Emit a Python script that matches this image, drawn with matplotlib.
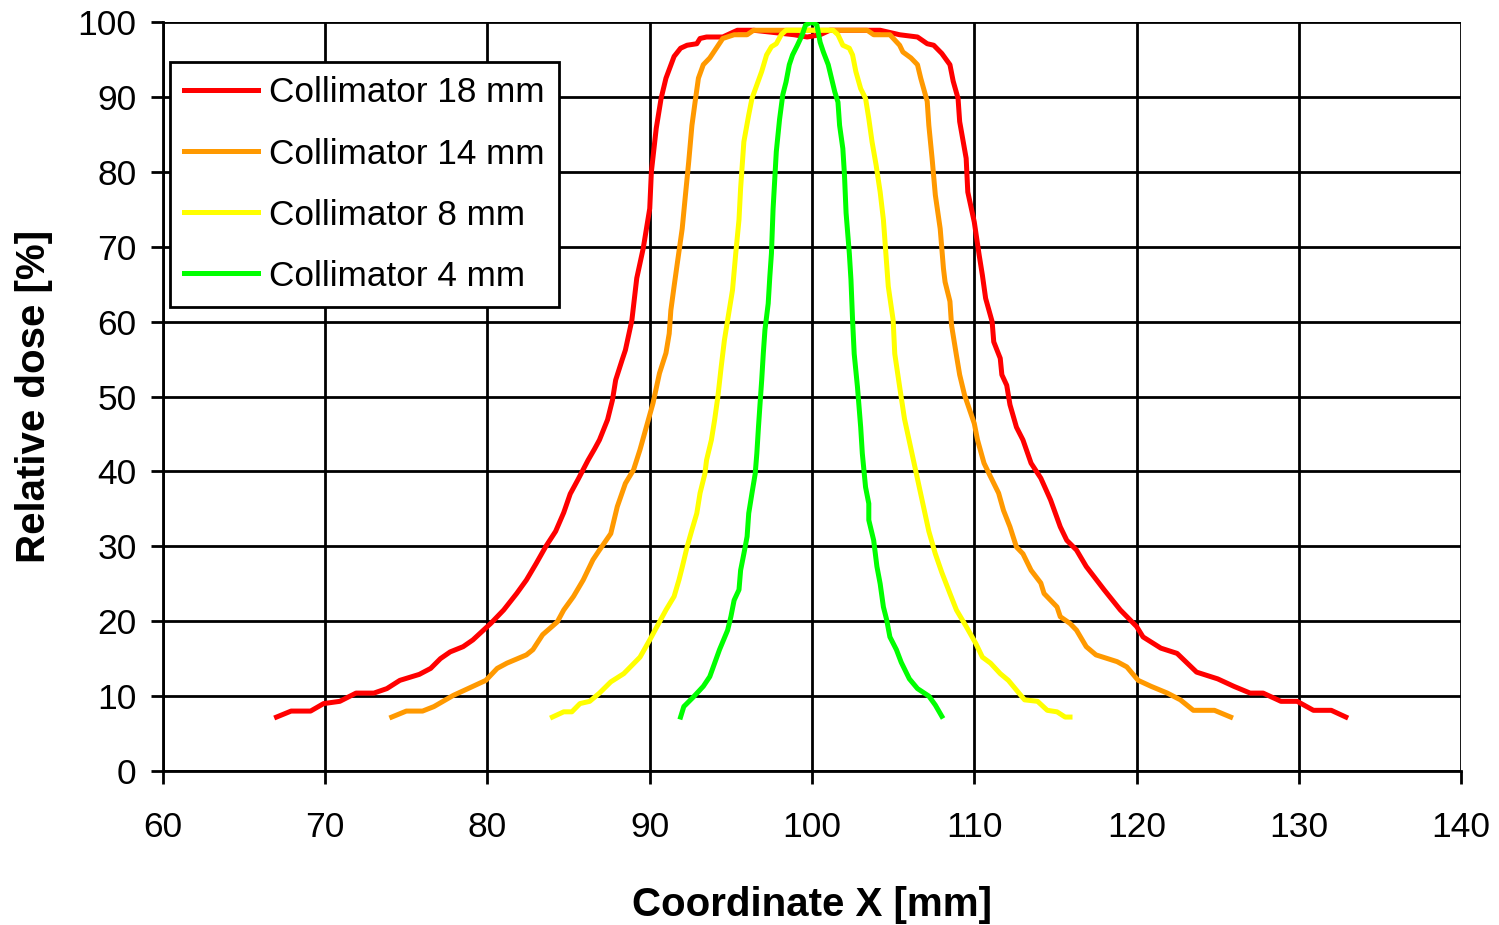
import numpy as np
import matplotlib
matplotlib.use("Agg")
import matplotlib.pyplot as plt

# dose profiles (x in mm, dose in %)
x_18 = [67.0, 67.9, 69.1, 69.9, 70.9, 71.9, 73.0, 73.8, 74.6, 75.8, 76.5, 77.1, 77.7, 78.5,
        79.1, 80.2, 81.0, 81.8, 82.4, 83.0, 83.6, 84.2, 84.7, 85.1, 85.6, 86.2, 86.6, 86.9,
        87.4, 87.7, 87.9, 88.3, 88.5, 88.9, 89.2, 89.6, 90.0, 90.1, 90.4, 90.7, 91.0, 91.5,
        91.9, 92.3, 92.9, 93.1, 93.5, 94.5, 95.4, 96.4, 98.9, 99.7, 100.5, 101.1, 104.2,
        104.6, 105.4, 106.5, 107.1, 107.5, 108.0, 108.5, 108.7, 109.0, 109.1, 109.5, 109.6,
        110.0, 110.3, 110.5, 110.7, 111.1, 111.2, 111.6, 111.7, 112.0, 112.2, 112.6, 113.0,
        113.5, 114.1, 114.7, 115.3, 115.7, 116.3, 116.9, 118.0, 119.0, 120.0, 120.4, 121.5,
        122.5, 123.7, 125.0, 126.0, 127.0, 127.8, 128.9, 129.9, 130.9, 132.0, 132.9]
y_18 = [7.2, 8.0, 8.0, 9.0, 9.3, 10.4, 10.4, 11.0, 12.1, 12.9, 13.7, 15.0, 15.9, 16.6,
        17.5, 19.7, 21.5, 23.7, 25.5, 27.7, 30.0, 32.0, 34.5, 37.0, 39.0, 41.5, 43.0, 44.2,
        46.9, 49.5, 52.2, 54.9, 56.2, 60.2, 65.8, 69.8, 75.1, 80.0, 85.8, 89.8, 92.5, 95.4,
        96.5, 96.9, 97.1, 97.8, 98.0, 98.0, 98.9, 98.9, 98.3, 98.0, 98.3, 98.9, 98.9,
        98.7, 98.3, 98.0, 97.1, 96.9, 95.8, 94.3, 92.1, 89.8, 86.7, 81.8, 77.3,
        73.3, 68.9, 66.2, 63.1, 60.0, 57.3, 55.1, 52.9, 51.5, 48.9, 45.9, 44.2,
        41.1, 39.1, 36.2, 32.6, 30.8, 29.5, 27.3, 24.2, 21.5, 19.3, 17.9, 16.4,
        15.7, 13.2, 12.3, 11.3, 10.4, 10.4, 9.3, 9.3, 8.1, 8.1, 7.2]

x_14 = [74.1, 75.0, 76.0, 76.7, 77.9, 79.1, 79.9, 80.6, 81.2, 82.4, 82.8, 83.4, 84.3, 84.7,
        85.3, 85.9, 86.5, 86.9, 87.6, 88.0, 88.5, 89.0, 89.4, 89.8, 90.2, 90.6, 91.0, 91.2,
        91.3, 91.5, 91.7, 92.0, 92.2, 92.4, 92.6, 92.8, 93.0, 93.3, 93.7, 94.1, 94.5, 95.2,
        96.0, 96.4, 103.4, 103.8, 104.8, 105.4, 105.6, 106.1, 106.5, 106.7, 107.1, 107.2,
        107.4, 107.6, 107.9, 108.1, 108.2, 108.5, 108.6, 108.9, 109.1, 109.4, 110.0, 110.2,
        110.6, 111.0, 111.5, 111.8, 112.2, 112.6, 113.0, 113.5, 114.1, 114.3, 114.7, 115.1,
        115.3, 115.9, 116.3, 116.9, 117.5, 118.8, 119.4, 120.1, 120.9, 121.9, 122.7, 123.5,
        124.8, 125.8]
y_14 = [7.2, 8.0, 8.0, 8.6, 10.1, 11.3, 12.1, 13.7, 14.4, 15.5, 16.2, 18.2, 19.9, 21.5,
        23.3, 25.5, 28.2, 29.5, 31.7, 35.3, 38.4, 40.2, 42.9, 46.0, 49.1, 53.1, 55.8, 58.4,
        61.5, 64.7, 67.8, 72.4, 76.9, 81.3, 86.2, 89.4, 92.5, 94.3, 95.2, 96.5, 97.8, 98.3,
        98.3, 98.9, 98.9, 98.3, 98.3, 96.9, 96.0, 95.2, 94.3, 92.5, 89.4, 86.2,
        81.8, 76.9, 72.4, 67.1, 65.3, 62.7, 59.5, 55.5, 52.9, 50.2, 46.4, 44.2,
        41.1, 39.3, 37.1, 34.8, 32.6, 29.9, 29.0, 26.8, 25.1, 23.7, 22.8, 21.9,
        20.6, 19.7, 18.8, 16.6, 15.5, 14.6, 13.9, 12.1, 11.3, 10.4, 9.5, 8.1,
        8.1, 7.2]

x_8 = [84.0, 84.7, 85.2, 85.7, 86.3, 86.9, 87.6, 88.4, 89.4, 90.0, 91.0, 91.5, 91.8, 92.0,
       92.3, 92.6, 92.9, 93.1, 93.4, 93.5, 93.8, 94.0, 94.2, 94.4, 94.6, 94.8, 95.1, 95.3,
       95.5, 95.6, 95.8, 96.1, 96.3, 96.6, 96.9, 97.2, 97.5, 97.8, 98.1, 98.4, 101.3, 101.6,
       101.9, 102.3, 102.5, 102.7, 103.0, 103.3, 103.5, 103.7, 103.95, 104.2, 104.4, 104.7,
       105.0, 105.1, 105.4, 105.7, 106.0, 106.3, 106.6, 106.9, 107.2, 107.6, 108.0, 108.5,
       108.9, 109.5, 110.1, 110.5, 111.0, 111.6, 112.1, 112.6, 113.1, 113.9, 114.5, 115.1,
       115.6, 115.9]
y_8 = [7.2, 7.9, 7.9, 9.0, 9.3, 10.4, 11.9, 13.0, 15.2, 17.5, 21.5, 23.3, 25.5, 27.2,
       29.9, 32.2, 34.4, 37.1, 39.7, 41.5, 44.2, 46.9, 50.0, 53.9, 57.5, 60.2, 64.2, 69.1,
       73.6, 77.8, 84.0, 87.6, 89.8, 91.6, 93.4, 95.6, 96.7, 97.1, 98.3, 98.9, 98.9, 98.3,
       96.9, 96.5, 95.6, 93.4, 91.1, 89.8, 87.1, 84.0, 80.9, 77.3, 73.6, 64.7,
       60.2, 55.7, 51.3, 47.0, 44.0, 41.0, 38.0, 35.0, 32.0, 29.0, 26.5, 23.7,
       21.5, 19.3, 17.0, 15.2, 14.4, 13.0, 12.1, 10.8, 9.5, 9.3, 8.1, 7.9,
       7.2, 7.2]

x_4 = [91.9, 92.1, 92.7, 93.3, 93.7, 94.0, 94.3, 94.8, 95.0, 95.2, 95.5, 95.6, 95.8, 96.0,
       96.1, 96.3, 96.5, 96.6, 96.7, 96.8, 96.9, 97.0, 97.1, 97.3, 97.4, 97.5, 97.6, 97.8,
       98.0, 98.2, 98.4, 98.6, 98.8, 99.1, 99.4, 99.6, 100.0, 100.3, 100.5, 100.7, 101.0,
       101.2, 101.4, 101.6, 101.7, 101.9, 102.0, 102.1, 102.3, 102.4, 102.5, 102.6, 102.8,
       103.0, 103.1, 103.3, 103.5, 103.5, 103.8, 104.0, 104.2, 104.4, 104.6, 104.8, 105.2,
       105.5, 106.0, 106.5, 107.2, 107.6, 108.0]
y_4 = [7.2, 8.6, 9.9, 11.3, 12.6, 14.4, 16.2, 18.8, 20.6, 22.8, 24.2, 26.8, 29.0, 31.3,
       34.4, 37.1, 39.7, 42.4, 45.9, 49.1, 52.2, 55.8, 58.9, 62.4, 66.0, 69.1, 75.0, 82.7,
       87.0, 90.3, 92.0, 94.3, 95.6, 96.9, 98.3, 99.6, 100.0, 99.6, 97.3, 96.0, 94.3,
       92.5, 90.7, 89.3, 86.2, 83.1, 79.6, 74.5, 69.1, 65.6, 60.2, 55.7, 51.3,
       45.9, 42.4, 37.9, 35.7, 33.5, 30.8, 27.3, 25.0, 21.9, 20.2, 17.9, 16.2,
       14.5, 12.3, 11.0, 10.0, 8.8, 7.3]

labels = ["Collimator 18 mm", "Collimator 14 mm", "Collimator 8 mm", "Collimator 4 mm"]
colors = ["#FF0000", "#FF9900", "#FFFF00", "#00FF00"]

plt.rcParams["font.family"] = ["Liberation Sans", "DejaVu Sans"]

fig = plt.figure(figsize=(14.99, 9.25), dpi=100)
ax = fig.add_axes([0.1087, 0.1665, 0.866, 0.8097])

for xs, ys, lab, c in zip([x_18, x_14, x_8, x_4], [y_18, y_14, y_8, y_4], labels, colors):
    ax.plot(xs, ys, color=c, lw=3.6, label=lab, solid_joinstyle="round")

ax.set_xlim(60, 140)
ax.set_ylim(0, 100)
ax.set_xticks(np.arange(60, 141, 10))
ax.set_yticks(np.arange(0, 101, 10))
ax.grid(True, color="black", lw=2.0)
ax.set_axisbelow(True)
for s in ["top", "right"]:
    ax.spines[s].set_visible(False)
for s in ["left", "bottom"]:
    ax.spines[s].set_linewidth(2.0)
ax.tick_params(axis="both", labelsize=25.5, width=2.0, length=9, direction="out")
ax.tick_params(axis="x", pad=20)
ax.tick_params(axis="y", pad=10)

ax.set_xlabel("Coordinate X [mm]", fontsize=29, fontweight="bold", labelpad=30)
ax.set_ylabel("Relative dose [%]", fontsize=29, fontweight="bold", labelpad=18)

leg = ax.legend(loc="upper left", bbox_to_anchor=(0.0054, 0.9466), fontsize=25.3,
                fancybox=False, framealpha=1, edgecolor="black", handlelength=2.1,
                handletextpad=0.3, labelspacing=0.8, borderpad=0.41, borderaxespad=0)
leg.get_frame().set_linewidth(2.0)

fig.savefig("out.png", dpi=100)
